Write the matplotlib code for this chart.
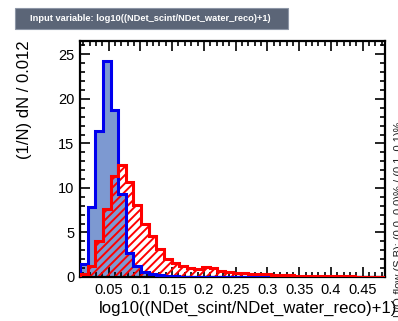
import numpy as np
import matplotlib
matplotlib.use("Agg")
import matplotlib.pyplot as plt
from matplotlib.ticker import MultipleLocator
from matplotlib.patches import Rectangle

plt.rcParams['font.family'] = ['Liberation Sans', 'DejaVu Sans']
plt.rcParams['hatch.linewidth'] = 1.4

# Histogram binning: 40 bins of width 0.012
bin_width = 0.012
x_min = 0.005
n_bins = 40
edges = x_min + bin_width * np.arange(n_bins + 1)

# Normalised signal distribution (1/N dN)
signal = [1.5, 7.9, 16.4, 24.3, 18.8, 9.3, 2.7, 1.2, 0.6, 0.35,
          0.2, 0.12, 0.08, 0.05, 0.04, 0.03, 0.02, 0.02, 0.01, 0.01,
          0.0, 0.0, 0.0, 0.0, 0.0, 0.0, 0.0, 0.0, 0.0, 0.0,
          0.0, 0.0, 0.0, 0.0, 0.0, 0.0, 0.0, 0.0, 0.0, 0.0]

# Normalised background distribution (1/N dN)
background = [0.3, 1.2, 4.0, 7.6, 11.3, 12.6, 10.7, 8.1, 5.9, 4.6,
              3.1, 2.0, 1.6, 1.2, 1.0, 0.9, 1.1, 1.0, 0.7, 0.6,
              0.5, 0.45, 0.35, 0.3, 0.3, 0.25, 0.2, 0.2, 0.15, 0.15,
              0.12, 0.1, 0.1, 0.08, 0.07, 0.06, 0.05, 0.05, 0.04, 0.03]

x_ticks = [0.05, 0.1, 0.15, 0.2, 0.25, 0.3, 0.35, 0.4, 0.45]
x_tick_labels = ["0.05", "0.1", "0.15", "0.2", "0.25", "0.3", "0.35", "0.4", "0.45"]
y_ticks = [0, 5, 10, 15, 20, 25]

title_text = "Input variable: log10((NDet_scint/NDet_water_reco)+1)"
x_title = "log10((NDet_scint/NDet_water_reco)+1)"
y_title = "(1/N) dN / %.3f" % bin_width
flow_text = "U/O-flow (S,B): (0.0, 0.0)% / (0.1, 0.1)%"

W, H = 398, 321
fig = plt.figure(figsize=(W / 100, H / 100), dpi=100)
ax = fig.add_axes([80 / W, 1 - 277 / H, 305 / W, 236 / H])

# Signal: filled blue
ax.stairs(signal, edges, fill=True, facecolor="#7d99d1", edgecolor="none", zorder=1)
# Background: red hatch
ax.stairs(background, edges, fill=True, facecolor="none", edgecolor="#ff0000",
          hatch="////", linewidth=0, zorder=2)
# Outlines
ax.stairs(signal, edges, fill=False, color="#0000ee", linewidth=2.2, zorder=3)
ax.stairs(background, edges, fill=False, color="#ff0000", linewidth=2.2, zorder=4)

ax.set_xlim(edges[0], edges[-1])
ax.set_ylim(0, 26.5)

ax.set_xticks(x_ticks)
ax.set_xticklabels(x_tick_labels)
ax.set_yticks(y_ticks)
ax.xaxis.set_minor_locator(MultipleLocator(0.01))
ax.yaxis.set_minor_locator(MultipleLocator(1))
ax.tick_params(which="both", direction="in", top=True, right=True,
               labelsize=10.5, width=1.2, pad=4)
ax.tick_params(which="major", length=7)
ax.tick_params(which="minor", length=3.5)
for s in ax.spines.values():
    s.set_linewidth(1.6)

fig.text(397 / W, 1 - 308 / H, x_title, ha="right", va="center", fontsize=12)
fig.text(25 / W, 1 - 40 / H, y_title, ha="center", va="top", rotation=90, fontsize=12)

# Under/overflow information on the right edge
fig.text(394 / W, 1 - 317 / H, flow_text, ha="left", va="bottom", rotation=90,
         fontsize=8, color="#222222")

# Title banner
banner = Rectangle((15 / W, 1 - 29 / H), 273 / W, 21 / H,
                   transform=fig.transFigure, facecolor="#5b6577",
                   edgecolor="#8d96a6", linewidth=0.8)
fig.add_artist(banner)
fig.text(30 / W, 1 - 18.5 / H, title_text, ha="left", va="center",
         fontsize=6.7, fontweight="bold", color="white")

fig.savefig("out.png", dpi=100)
